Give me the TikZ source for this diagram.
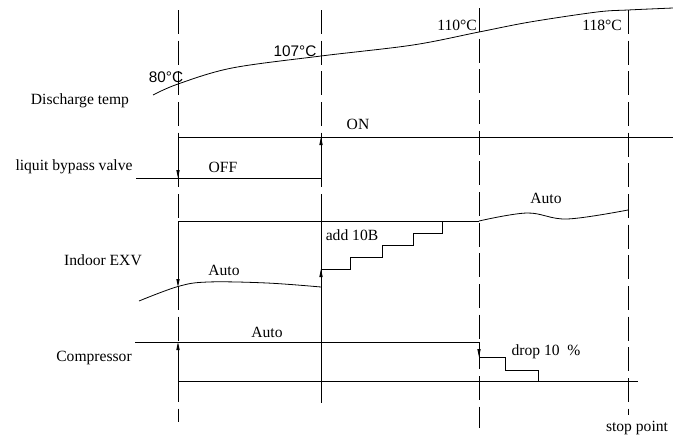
\documentclass[tikz,border=0pt]{standalone}
\usepackage{fontspec}
\setmainfont{Liberation Serif}
\newfontfamily\cadfont{Liberation Sans}
\usetikzlibrary{arrows.meta, positioning}
\tikzset{
  sigline/.style   = {line width=0.6pt, black},
  guide/.style     = {line width=0.6pt, black, dash pattern=on 18pt off 5pt},
  evarrow/.style   = {-{Triangle[length=6pt,width=2.4pt]}, line width=0.6pt},
  lbl/.style       = {font=\fontsize{11.7}{14}\selectfont, inner sep=0pt},
  cadlbl/.style    = {font=\cadfont\fontsize{11.5}{14}\selectfont, inner sep=0pt},
}

\begin{document}
\begin{tikzpicture}[x=0.75pt, y=-0.75pt]

\useasboundingbox (0,0) rectangle (673,439);

% ==================== time marks ====================
\coordinate (t1top) at (178,10);  \coordinate (t1bot) at (178,422);
\coordinate (t2top) at (321,10);  \coordinate (t2mid) at (321,195);  \coordinate (t2bot) at (321,403);
\coordinate (t3top) at (479,8);   \coordinate (t3bot) at (479,428);
\coordinate (t4top) at (628,10);  \coordinate (t4bot) at (628,415);

\draw[guide] (t1top) -- (t1bot);
\draw[guide] (t2top) -- (t2mid);
\draw[sigline] (t2mid) -- (t2bot);
\draw[guide] (t3top) -- (t3bot);
\draw[guide] (t4top) -- (t4bot);

% ==================== discharge temp ====================
\node[lbl] (dtemp) at (80,101) {Discharge temp};
\draw[sigline] plot[smooth, tension=0.55] coordinates
  {(153,95) (178,84) (232,68) (321,56) (413,45) (479,32) (530,22) (597,12) (628,10) (673,8)};

\node[cadlbl] (temp80)  at (166,77) {80°C};
\node[cadlbl] (temp107) at (295,51) {107°C};
\node[lbl]    (temp110) at (457,25) {110°C};
\node[lbl]    (temp118) at (602,25) {118°C};

% ==================== liquit bypass valve ====================
\coordinate (onL)  at (178,137);  \coordinate (onR)  at (673,137);
\coordinate (offL) at (136,178);  \coordinate (offR) at (321,178);

\draw[sigline] (onL) -- (onR);
\draw[sigline] (offL) -- (offR);
\node[lbl] (onlbl)  at (358,124) {ON};
\node[lbl] (offlbl) at (223,167) {OFF};
\node[lbl] (bypass) at (74,167) {liquit bypass valve};

\draw[evarrow] (178,150) -- (178,178);
\draw[evarrow] (offR) -- (321,137);

% ==================== indoor EXV ====================
\coordinate (exvL) at (178,221);  \coordinate (exvR) at (479,221);

\draw[sigline] (exvL) -- (exvR);
\draw[sigline] plot[smooth, tension=0.6] coordinates
  {(479,221) (527,213) (567,219) (628,210)};
\draw[sigline] plot[smooth, tension=0.6] coordinates
  {(139,301) (178,286.5) (208,282) (267,283) (321,287)};

\coordinate (step0) at (321,269);
\draw[sigline] (step0) -- (350,269) -- (350,257) -- (382,257) -- (382,245)
  -- (413,245) -- (413,233) -- (442,233) -- (442,221);

\draw[evarrow] (exvL) -- (178,287);
\draw[evarrow] (321,287) -- (step0);

\node[lbl] (exvauto1) at (224,270) {Auto};
\node[lbl] (exvauto2) at (546,198) {Auto};
\node[lbl] (add10b)   at (352,235) {add 10B};
\node[lbl] (exv)      at (103,260) {Indoor EXV};

% ==================== compressor ====================
\coordinate (compL) at (135,342);  \coordinate (compR) at (479,342);
\coordinate (baseL) at (178,381.5); \coordinate (baseR) at (638,381.5);

\draw[sigline] (compL) -- (compR);
\draw[sigline] (baseL) -- (baseR);
\draw[evarrow] (baseL) -- (178,342);
\draw[evarrow] (compR) -- (479,357);
\draw[sigline] (479,357) -- (505,357) -- (505,370.5) -- (538,370.5) -- (538,381.5);

\node[lbl] (compauto) at (267,332) {Auto};
\node[lbl] (drop)     at (546,352) {drop 10~~\%};
\node[lbl] (comp)     at (94,358) {Compressor};
\node[lbl] (stop)     at (637,428) {stop point};

\end{tikzpicture}
\end{document}
